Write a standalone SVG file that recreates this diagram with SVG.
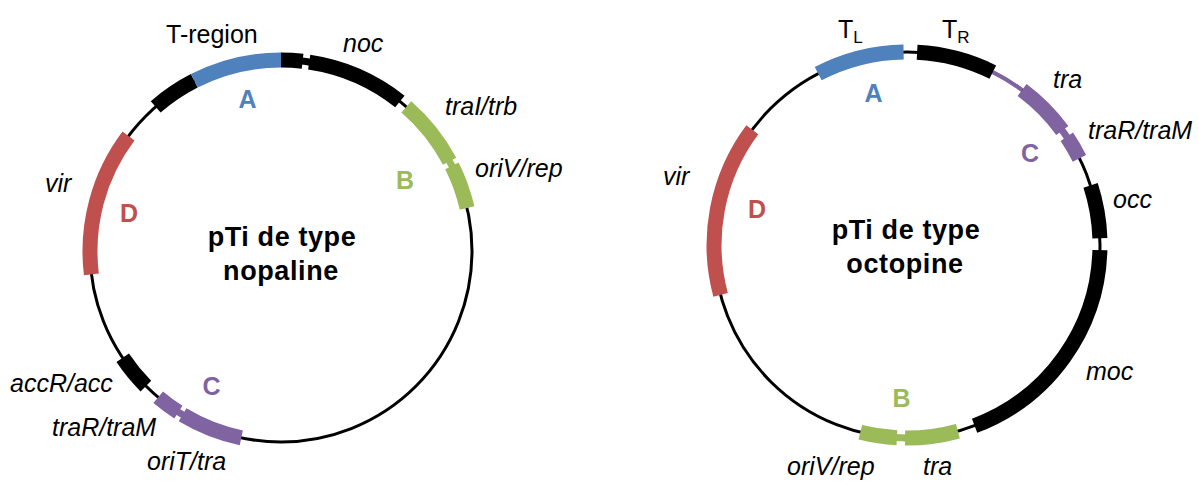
<svg xmlns="http://www.w3.org/2000/svg" width="1199" height="482" viewBox="0 0 1199 482">
<style>
.bb{fill:none;stroke:#000;stroke-width:3}
.seg{fill:none;stroke-width:15;stroke-linecap:butt}
.notch{fill:none;stroke-width:7;stroke-linecap:butt}
.k{stroke:#000}.bl{stroke:#4F81BD}.gr{stroke:#9BBB59}.rd{stroke:#C0504D}.pu{stroke:#8064A2}
.lab{font-family:"Liberation Sans",Arial,sans-serif;font-style:italic;font-size:25px;fill:#000}
.reg{font-family:"Liberation Sans",Arial,sans-serif;font-size:25px;fill:#000}
.let{font-family:"Liberation Sans",Arial,sans-serif;font-weight:bold;font-size:25px;text-anchor:middle}
.ttl{font-family:"Liberation Sans",Arial,sans-serif;font-weight:bold;font-size:27px;letter-spacing:0.6px;text-anchor:middle;fill:#000}
</style>
<rect width="1199" height="482" fill="#fff"/>
<g id="connectors">
<circle class="bb" cx="281" cy="251" r="191"/>
<circle class="bb" cx="907" cy="245" r="193"/>
</g>
<!-- Left plasmid: nopaline -->
<g id="left-t-region">
<path class="seg k" d="M155.7 106.9 A191 191 0 0 1 194.3 80.8"/>
<path class="seg bl" d="M194.3 80.8 A191 191 0 0 1 281 60"/>
<path class="seg k" d="M281 60 A191 191 0 0 1 302.6 61.2"/>
<path class="notch k" d="M302 61.1 A191 191 0 0 1 310 62.2"/>
<text class="reg" x="166" y="43">T-region</text>
<text class="let" x="247.5" y="108" fill="#4F81BD">A</text>
</g>
<g id="left-noc">
<path class="seg k" d="M309.2 62.1 A191 191 0 0 1 399.9 101.5"/>
<text class="lab" x="343" y="52">noc</text>
</g>
<g id="left-B">
<path class="seg gr" d="M406.3 106.9 A191 191 0 0 1 449.6 161.3"/>
<path class="notch gr" d="M449 160.5 A191 191 0 0 1 452.5 166.8"/>
<path class="seg gr" d="M451.9 165.8 A191 191 0 0 1 467.1 208"/>
<text class="lab" x="445" y="115">traI/trb</text>
<text class="lab" x="475" y="177">oriV/rep</text>
<text class="let" x="405" y="189" fill="#9BBB59">B</text>
</g>
<g id="left-D">
<path class="seg rd" d="M91.4 274.3 A191 191 0 0 1 128.5 136.1"/>
<text class="lab" x="45" y="192">vir</text>
<text class="let" x="129" y="222" fill="#C0504D">D</text>
</g>
<g id="left-acc">
<path class="seg k" d="M145.9 386.1 A191 191 0 0 1 122.7 357.8"/>
<text class="lab" x="10" y="392">accR/acc</text>
</g>
<g id="left-C">
<path class="seg pu" d="M241.3 437.8 A191 191 0 0 1 182.6 414.7"/>
<path class="notch pu" d="M183.5 415.2 A191 191 0 0 1 177.6 411.6"/>
<path class="seg pu" d="M178.4 412.1 A191 191 0 0 1 158.2 397.3"/>
<text class="lab" x="52" y="436">traR/traM</text>
<text class="lab" x="147" y="470">oriT/tra</text>
<text class="let" x="211.5" y="395" fill="#8064A2">C</text>
</g>
<g id="left-title">
<text class="ttl" x="282" y="246">pTi de type</text>
<text class="ttl" x="281" y="280">nopaline</text>
</g>
<!-- Right plasmid: octopine -->
<g id="right-A">
<path class="seg bl" d="M818.2 73.7 A193 193 0 0 1 903.6 52"/>
<text class="reg" x="838" y="38" font-size="24">T<tspan font-size="17" dy="5">L</tspan></text>
<text class="let" x="873.5" y="102" fill="#4F81BD">A</text>
</g>
<g id="right-TR">
<path class="seg k" d="M917.1 52.3 A193 193 0 0 1 992.8 72.1"/>
<text class="reg" x="942" y="38" font-size="24">T<tspan font-size="17" dy="5">R</tspan></text>
</g>
<g id="right-C">
<path fill="none" stroke="#8064A2" stroke-width="4" d="M992.8 72.1 A193 193 0 0 1 1022.1 90.1"/>
<path class="seg pu" d="M1022.1 90.1 A193 193 0 0 1 1062.3 130.5"/>
<path class="notch pu" d="M1061.6 129.6 A193 193 0 0 1 1067.4 137.7"/>
<path class="seg pu" d="M1066.8 136.8 A193 193 0 0 1 1079.4 158.3"/>
<text class="lab" x="1053" y="88">tra</text>
<text class="lab" x="1088" y="139">traR/traM</text>
<text class="let" x="1030" y="162" fill="#8064A2">C</text>
</g>
<g id="right-occ">
<path class="seg k" d="M1090.6 185.4 A193 193 0 0 1 1099.9 238.3"/>
<text class="lab" x="1113" y="208">occ</text>
</g>
<g id="right-moc">
<path class="seg k" d="M1099.9 250.1 A193 193 0 0 1 974.6 425.8"/>
<text class="lab" x="1086" y="380">moc</text>
</g>
<g id="right-B">
<path class="seg gr" d="M957.9 431.2 A193 193 0 0 1 905 438"/>
<path class="notch gr" d="M906 438 A193 193 0 0 1 896 437.6"/>
<path class="seg gr" d="M896.9 437.7 A193 193 0 0 1 860.3 432.3"/>
<text class="lab" x="787" y="475">oriV/rep</text>
<text class="lab" x="923" y="475">tra</text>
<text class="let" x="901.5" y="407" fill="#9BBB59">B</text>
</g>
<g id="right-D">
<path class="seg rd" d="M720.6 294.9 A193 193 0 0 1 752.3 129.7"/>
<text class="lab" x="663" y="185">vir</text>
<text class="let" x="757" y="218" fill="#C0504D">D</text>
</g>
<g id="right-title">
<text class="ttl" x="906" y="239">pTi de type</text>
<text class="ttl" x="905" y="273">octopine</text>
</g>
</svg>
